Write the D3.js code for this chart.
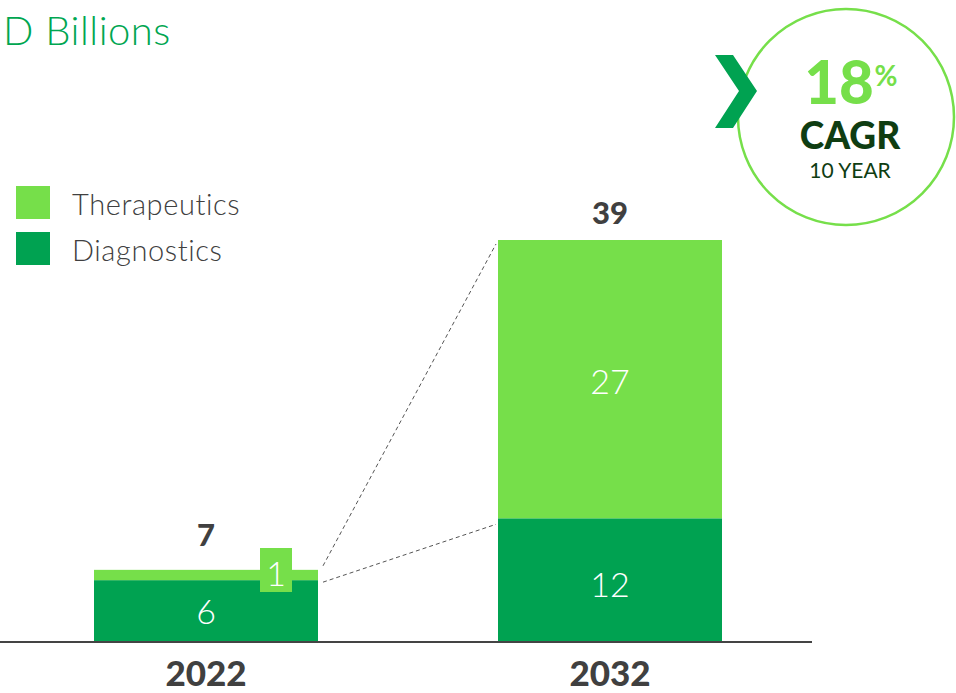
<!DOCTYPE html>
<html>
<head>
<meta charset="utf-8">
<script src="https://cdn.jsdelivr.net/npm/d3@7"></script>
<style>
  html, body { margin: 0; padding: 0; background: #fff; }
  svg { display: block; }
</style>
</head>
<body>
<svg id="chart" width="956" height="693"></svg>
<script>
// Market size by segment, USD billions
const years = ["2022", "2032"];
const diagnostics = [6, 12];
const therapeutics = [1, 27];
const totals = [7, 39];
const seriesNames = ["Therapeutics", "Diagnostics"];
const cagrValue = "18";
const cagrPeriod = "10 YEAR";

const LIGHT = "#76df4a";
const DARK = "#00a251";
const TEXT = "#404040";
const FONT = "Lato, 'Open Sans', sans-serif";

const svg = d3.select("#chart");

const x = d3.scalePoint().domain(years).range([206, 610]);
const barW = 224;
const xc = d => x(d);
const y = d3.scaleLinear().domain([0, 39]).range([642, 240]);

const rows = years.map((yr, i) => ({
  year: yr, diag: diagnostics[i], ther: therapeutics[i], total: totals[i]
}));
const stack = d3.stack().keys(["diag", "ther"])(rows);
const colors = { diag: DARK, ther: LIGHT };

// Title (partially cut on the left)
svg.append("text")
  .attr("x", 3).attr("y", 45)
  .attr("font-family", FONT).attr("font-weight", 300)
  .attr("font-size", 40).attr("letter-spacing", 0.5).attr("fill", "#00a651")
  .text("D Billions");

// Stacked bars
stack.forEach(layer => {
  svg.append("g").selectAll("rect").data(layer).join("rect")
    .attr("x", d => xc(d.data.year) - barW / 2)
    .attr("width", barW)
    .attr("y", d => y(d[1]))
    .attr("height", d => y(d[0]) - y(d[1]))
    .attr("fill", colors[layer.key]);
});

// Connector dashes between the two bars
const x1 = xc(years[0]) + barW / 2 + 5;
const x2 = xc(years[1]) - barW / 2 - 2;
[[totals[0], totals[1]], [diagnostics[0], diagnostics[1]]].forEach(([a, b], i) => {
  svg.append("line")
    .attr("x1", x1).attr("y1", y(a) + (i ? 2 : -4))
    .attr("x2", x2).attr("y2", y(b) + (i ? 6 : 4))
    .attr("stroke", "#555").attr("stroke-width", 1)
    .attr("stroke-dasharray", "4,3");
});

// Baseline
svg.append("line")
  .attr("x1", 0).attr("x2", 812).attr("y1", 642).attr("y2", 642)
  .attr("stroke", "#444").attr("stroke-width", 2);

// Segment value labels
const segLabel = (cx, cy, txt) => svg.append("text")
  .attr("x", cx).attr("y", cy)
  .attr("text-anchor", "middle").attr("dominant-baseline", "central")
  .attr("font-family", FONT).attr("font-weight", 300)
  .attr("font-size", 34).attr("fill", "#fff").text(txt);

rows.forEach((r, i) => {
  const cx = xc(r.year);
  if (i === 0) {
    segLabel(cx, 610, r.diag);
    // small call-out box for the thin top segment
    const bx = cx + 54, bw = 32;
    svg.append("rect").attr("x", bx).attr("y", 548).attr("width", bw).attr("height", 44).attr("fill", LIGHT);
    segLabel(bx + bw / 2, 572, r.ther);
  } else {
    segLabel(cx, (y(0) + y(r.diag)) / 2 + 3, r.diag);
    segLabel(cx, (y(r.diag) + y(r.total)) / 2 + 1, r.ther);
  }
  // totals
  svg.append("text")
    .attr("x", cx)
    .attr("y", i === 0 ? 546 : y(r.total) - 16)
    .attr("text-anchor", "middle")
    .attr("font-family", FONT).attr("font-weight", 900)
    .attr("font-size", 31).attr("fill", TEXT).text(r.total);
  // year axis labels
  svg.append("text")
    .attr("x", cx).attr("y", 686)
    .attr("text-anchor", "middle")
    .attr("font-family", FONT).attr("font-weight", 900)
    .attr("font-size", 35).attr("fill", TEXT).text(r.year);
});

// Legend
const legend = svg.append("g");
seriesNames.forEach((name, i) => {
  const ly = 186 + i * 46;
  legend.append("rect").attr("x", 16).attr("y", ly).attr("width", 34).attr("height", 33)
    .attr("fill", i === 0 ? LIGHT : DARK);
  legend.append("text").attr("x", 72).attr("y", ly + 17)
    .attr("dominant-baseline", "central")
    .attr("font-family", FONT).attr("font-weight", 300)
    .attr("font-size", 29).attr("letter-spacing", 0.6).attr("fill", TEXT).text(name);
});

// CAGR badge
const badge = svg.append("g");
badge.append("circle").attr("cx", 846).attr("cy", 117).attr("r", 108)
  .attr("fill", "#fff").attr("stroke", LIGHT).attr("stroke-width", 2.5);
badge.append("path")
  .attr("d", "M715,55 L733,55 L757,91 L733,128 L715,128 L739,91 Z")
  .attr("fill", DARK);
badge.append("text").attr("x", 839).attr("y", 104)
  .attr("text-anchor", "middle")
  .attr("font-family", FONT).attr("font-weight", 900)
  .attr("font-size", 60).attr("fill", LIGHT).text(cagrValue);
badge.append("text").attr("x", 886).attr("y", 86)
  .attr("text-anchor", "middle")
  .attr("font-family", FONT).attr("font-weight", 700)
  .attr("font-size", 28).attr("fill", LIGHT).text("%");
badge.append("text").attr("x", 850).attr("y", 149)
  .attr("text-anchor", "middle")
  .attr("font-family", FONT).attr("font-weight", 900)
  .attr("font-size", 37).attr("fill", "#0f3d12").text("CAGR");
badge.append("text").attr("x", 850).attr("y", 178)
  .attr("text-anchor", "middle")
  .attr("font-family", FONT).attr("font-weight", 400)
  .attr("font-size", 21).attr("fill", "#0f3d12").text(cagrPeriod);
</script>
</body>
</html>
